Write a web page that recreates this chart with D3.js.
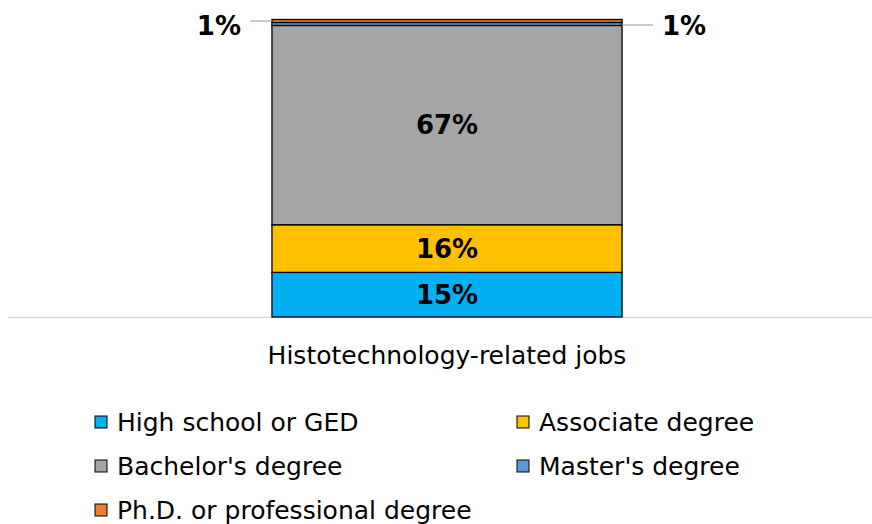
<!DOCTYPE html>
<html>
<head>
<meta charset="utf-8">
<script src="https://cdn.jsdelivr.net/npm/d3@7"></script>
<style>
  body { margin: 0; background: #fff; }
  text { font-family: "DejaVu Sans", sans-serif; }
</style>
</head>
<body>
<svg id="chart"></svg>
<script>
const width  = 872
const height = 524

const category = "Histotechnology-related jobs"
const seriesNames  = ["High school or GED", "Associate degree", "Bachelor's degree", "Master's degree", "Ph.D. or professional degree"]
const seriesValues = [15, 16, 67, 1, 1]
const seriesLabels = ["15%", "16%", "67%", "1%", "1%"]
const seriesColors = ["#00b0f0", "#ffc000", "#a5a5a5", "#5b9bd5", "#ed7d31"]

let svg = d3.select("#chart")
            .attr("width", width)
            .attr("height", height)

const x = d3.scaleBand()
            .domain([category])
            .range([22, 872])
            .paddingInner(0)
            .paddingOuter(0.714)

const y = d3.scaleLinear()
            .domain([0, 100])
            .range([317, 19.5])

// stack the single category
let acc = 0
const stacked = seriesValues.map((v, i) => {
    const d = { name: seriesNames[i], y0: acc, y1: acc + v, label: seriesLabels[i], color: seriesColors[i] }
    acc += v
    return d
})

// axis line
svg.append("line")
    .attr("x1", 8).attr("x2", 872)
    .attr("y1", y(0) + 0.5).attr("y2", y(0) + 0.5)
    .style("stroke", "#d9d9d9")
    .style("stroke-width", 1.5)

svg.append("g")
    .selectAll("rect")
    .data(stacked)
    .enter().append("rect")
    .attr("x", x(category))
    .attr("width", x.bandwidth())
    .attr("y", d => y(d.y1))
    .attr("height", d => y(d.y0) - y(d.y1))
    .attr("fill", d => d.color)
    .style("stroke", "#000")
    .style("stroke-width", 1.3)

// labels inside big segments
svg.append("g")
    .selectAll("text")
    .data(stacked.filter(d => d.y1 - d.y0 > 5))
    .enter().append("text")
    .attr("x", x(category) + x.bandwidth() / 2)
    .attr("y", d => y((d.y0 + d.y1) / 2))
    .attr("dy", ".36em")
    .attr("text-anchor", "middle")
    .style("font-size", "26px")
    .style("font-weight", "bold")
    .style("fill", "#000")
    .text(d => d.label)

// callouts for the thin top segments
const left  = x(category)
const right = x(category) + x.bandwidth()
const callouts = [
    { d: stacked[4], lx1: left - 22, lx2: left, ly: 21, tx: left - 31, anchor: "end" },
    { d: stacked[3], lx1: right, lx2: right + 31, ly: 25, tx: right + 40, anchor: "start" }
]
callouts.forEach(c => {
    svg.append("line")
        .attr("x1", c.lx1).attr("x2", c.lx2)
        .attr("y1", c.ly).attr("y2", c.ly)
        .style("stroke", "#a6a6a6")
        .style("stroke-width", 1.2)
    svg.append("text")
        .attr("x", c.tx)
        .attr("y", 26)
        .attr("dy", ".36em")
        .attr("text-anchor", c.anchor)
        .style("font-size", "26px")
        .style("font-weight", "bold")
        .text(c.d.label)
})

// category label
svg.append("text")
    .attr("x", x(category) + x.bandwidth() / 2)
    .attr("y", 355)
    .attr("dy", ".36em")
    .attr("text-anchor", "middle")
    .style("font-size", "25px")
    .text(category)

// legend
const legendX = [95, 517]
const legendY = [422, 466, 510]
let legendItems = svg.append("g")
    .selectAll("g")
    .data(seriesNames)
    .enter().append("g")
    .attr("transform", (d, i) => `translate(${legendX[i % 2]},${legendY[Math.floor(i / 2)]})`)

legendItems.append("rect")
    .attr("x", 0).attr("y", -6)
    .attr("width", 12).attr("height", 12)
    .attr("fill", (d, i) => seriesColors[i])
    .style("stroke", "#000")
    .style("stroke-width", 1)

legendItems.append("text")
    .attr("x", 22)
    .attr("y", 0)
    .attr("dy", ".36em")
    .style("font-size", "25px")
    .text(d => d)
</script>
</body>
</html>
